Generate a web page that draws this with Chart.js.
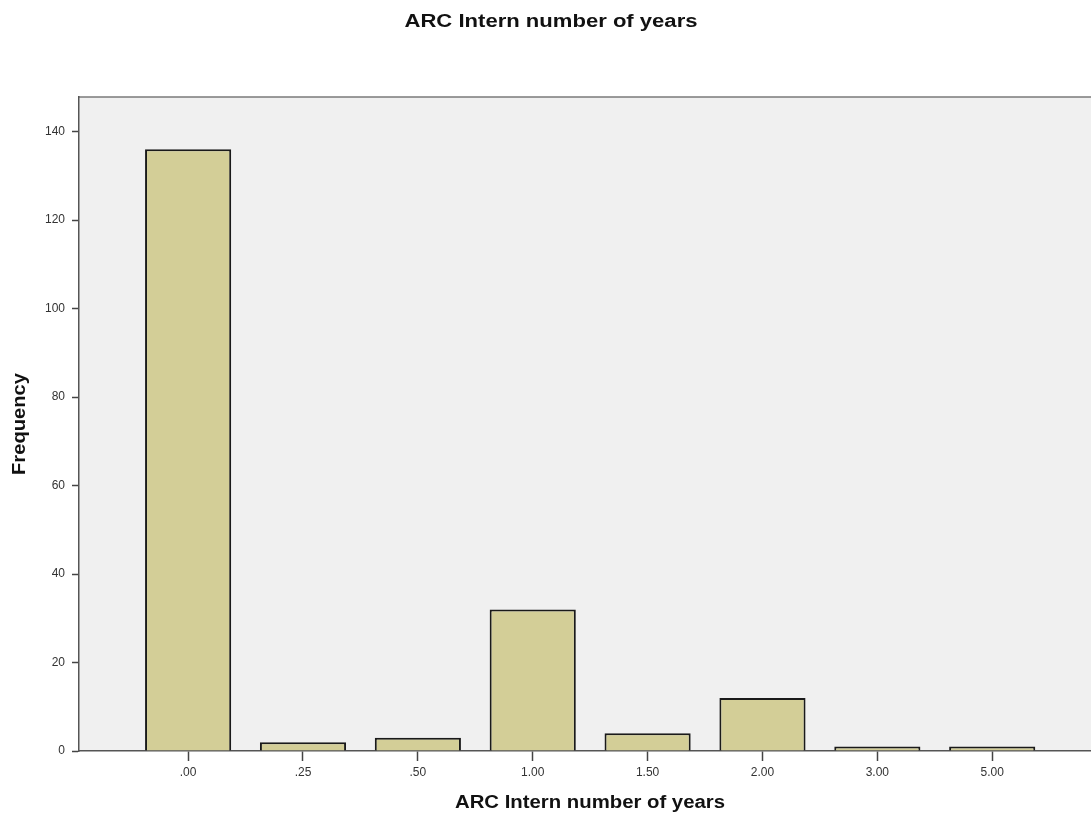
<!DOCTYPE html>
<html>
<head>
<meta charset="utf-8">
<script src="https://cdn.jsdelivr.net/npm/chart.js@4.4.1/dist/chart.umd.min.js"></script>
<style>
  body { margin: 0; background: #ffffff; overflow: hidden; }
  canvas { display: block; }
</style>
</head>
<body>
<canvas id="histChart" width="1091" height="817"></canvas>
<script>
const categories = ['.00', '.25', '.50', '1.00', '1.50', '2.00', '3.00', '5.00'];
const frequencies = [136, 2, 3, 32, 4, 12, 1, 1];
const yTicks = [0, 20, 40, 60, 80, 100, 120, 140];

const titleText = 'ARC Intern number of years';
const xTitleText = 'ARC Intern number of years';
const yTitleText = 'Frequency';

// stretched text, the original font runs wider than Liberation Sans
function drawWideText(ctx, text, x, y, font, width, rotate) {
    ctx.save();
    ctx.translate(x, y);
    if (rotate) ctx.rotate(-Math.PI / 2);
    ctx.font = font;
    const w = ctx.measureText(text).width;
    ctx.scale(width / w, 1);
    ctx.textAlign = 'center';
    ctx.textBaseline = 'alphabetic';
    ctx.fillStyle = '#111111';
    ctx.fillText(text, 0, 0);
    ctx.restore();
}

const framePlugin = {
    id: 'frame',
    beforeDraw(chart) {
        const { ctx, chartArea } = chart;
        ctx.save();
        ctx.fillStyle = '#f0f0f0';
        ctx.fillRect(chartArea.left, chartArea.top, chartArea.right - chartArea.left, chartArea.bottom - chartArea.top);
        ctx.strokeStyle = '#7a7a7a';
        ctx.lineWidth = 1.5;
        ctx.beginPath();
        ctx.moveTo(chartArea.left, chartArea.top);
        ctx.lineTo(chartArea.right, chartArea.top);
        ctx.stroke();
        ctx.restore();
    },
    afterDraw(chart) {
        const ctx = chart.ctx;
        const font = 'bold 18px "Liberation Sans", Arial, sans-serif';
        drawWideText(ctx, titleText, 551, 27, font, 293, false);
        drawWideText(ctx, xTitleText, 590, 808, font, 270, false);
        drawWideText(ctx, yTitleText, 25, 424, font, 102, true);
    }
};

const ctx = document.getElementById('histChart').getContext('2d');
new Chart(ctx, {
    type: 'bar',
    data: {
        datasets: [{
            data: frequencies.map((v, i) => ({ x: i, y: v })),
            backgroundColor: '#d3ce97',
            borderColor: '#1a1a1a',
            borderWidth: 2,
            barPercentage: 0.75,
            categoryPercentage: 1
        }]
    },
    options: {
        responsive: false,
        animation: false,
        layout: { padding: { top: 97, left: 0, right: 0, bottom: 0 } },
        plugins: {
            legend: { display: false },
            tooltip: { enabled: false },
            title: { display: false }
        },
        scales: {
            x: {
                type: 'linear',
                offset: false,
                min: -0.95,
                max: 7.86,
                afterFit: scale => { scale.height = 66; },
                grid: { offset: false, drawOnChartArea: false, drawTicks: true, tickLength: 10, tickWidth: 1.5, color: '#444444' },
                border: { display: true, color: '#555555', width: 1.5 },
                ticks: {
                    stepSize: 1,
                    includeBounds: false,
                    autoSkip: false,
                    maxRotation: 0,
                    padding: 4,
                    color: '#333333',
                    font: { family: '"Liberation Sans", Arial, sans-serif', size: 12 },
                    callback: value => categories[value] ?? ''
                }
            },
            y: {
                min: 0,
                max: 147.8,
                afterFit: scale => { scale.width = 79; },
                afterBuildTicks: scale => { scale.ticks = yTicks.map(v => ({ value: v })); },
                grid: { drawOnChartArea: false, drawTicks: true, tickLength: 7, tickWidth: 1.5, color: '#444444' },
                border: { display: true, color: '#555555', width: 1.5 },
                ticks: {
                    padding: 7,
                    color: '#333333',
                    font: { family: '"Liberation Sans", Arial, sans-serif', size: 12 }
                }
            }
        }
    },
    plugins: [framePlugin]
});
</script>
</body>
</html>
